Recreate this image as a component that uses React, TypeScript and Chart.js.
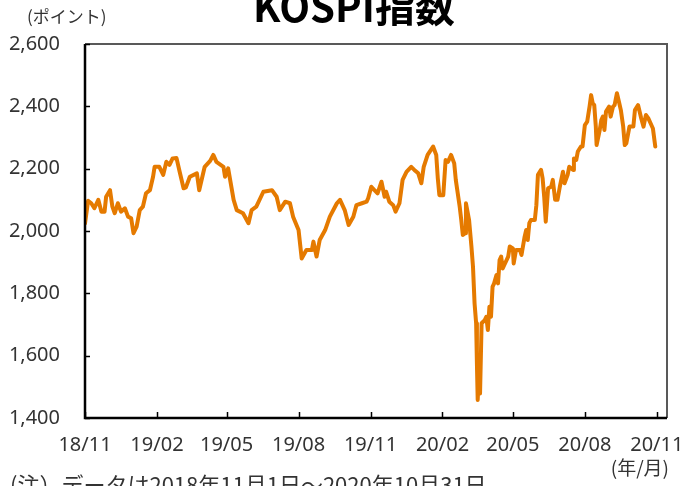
import React, { useEffect, useRef } from "react";
import { Chart, registerables } from "chart.js";
Chart.register(...registerables);

// days since 2018-11-01
const days = [
  0, 4, 8, 12, 17, 21, 25, 27, 32, 35,
  38, 42, 46, 51, 55, 59, 62, 66, 70, 74,
  78, 83, 87, 89, 95, 100, 104, 108, 112, 117,
  121, 126, 129, 134, 143, 146, 153, 160, 164, 168,
  177, 179, 183, 190, 194, 202, 209, 213, 219, 228,
  239, 245, 249, 256, 262, 266, 273, 277, 283, 290,
  292, 296, 300, 307, 313, 322, 326, 332, 337, 343,
  347, 354, 360, 362, 366, 370, 374, 379, 383, 385,
  389, 394, 397, 402, 406, 411, 417, 421, 426, 430,
  433, 438, 445, 449, 451, 453, 458, 461, 464, 468,
  472, 474, 479, 481, 483, 486, 487, 491, 494, 496,
  498, 500, 501, 502, 504, 505, 507, 511, 513, 515,
  517, 519, 521, 523, 526, 528, 530, 532, 534, 536,
  541, 543, 547, 548, 551, 556, 558, 562, 564, 566,
  568, 570, 575, 577, 579, 583, 585, 587, 589, 592,
  596, 598, 601, 604, 607, 611, 613, 617, 619, 624,
  625, 628, 630, 634, 636, 639, 642, 645, 647, 649,
  651, 653, 654, 658, 660, 662, 664, 666, 670, 672,
  675, 677, 680, 683, 685, 688, 690, 692, 696, 701,
  703, 707, 711, 714, 717, 720, 724, 726, 729,
];

const kospi = [
  2024, 2097, 2089, 2073, 2100, 2062, 2062, 2110, 2131, 2078,
  2057, 2089, 2062, 2073, 2046, 2041, 1993, 2014, 2067, 2078,
  2121, 2131, 2174, 2206, 2206, 2180, 2222, 2212, 2233, 2234,
  2190, 2137, 2140, 2174, 2185, 2131, 2206, 2225, 2244, 2222,
  2206, 2174, 2201, 2100, 2067, 2057, 2025, 2067, 2078, 2126,
  2131, 2110, 2067, 2094, 2089, 2046, 2003, 1912, 1939, 1939,
  1966, 1918, 1971, 2003, 2046, 2089, 2100, 2067, 2019, 2046,
  2083, 2089, 2094, 2105, 2142, 2131, 2121, 2158, 2110, 2126,
  2094, 2083, 2062, 2089, 2164, 2190, 2206, 2196, 2185, 2153,
  2206, 2244, 2271, 2244, 2169, 2115, 2115, 2228, 2222, 2244,
  2217, 2164, 2078, 2035, 1987, 1993, 2089, 2035, 1950, 1885,
  1768, 1704, 1575, 1458, 1565, 1479, 1704, 1714, 1725, 1682,
  1757, 1725, 1821, 1832, 1859, 1832, 1907, 1918, 1880, 1891,
  1918, 1950, 1944, 1896, 1939, 1939, 1923, 1982, 2003, 1971,
  2025, 2035, 2035, 2083, 2180, 2196, 2169, 2110, 2030, 2137,
  2142, 2164, 2100, 2100, 2142, 2190, 2153, 2180, 2206, 2196,
  2233, 2228, 2255, 2271, 2271, 2340, 2351, 2399, 2436, 2410,
  2404, 2335, 2276, 2324, 2356, 2367, 2324, 2383, 2399, 2367,
  2399, 2404, 2442, 2410, 2388, 2335, 2276, 2281, 2335, 2335,
  2388, 2404, 2362, 2335, 2372, 2362, 2340, 2329, 2271,
];

const xTickDays = [0, 92, 181, 273, 365, 457, 547, 639, 731];
const xTickLabels = ["18/11", "19/02", "19/05", "19/08", "19/11", "20/02", "20/05", "20/08", "20/11"];
const yTicks = [1400, 1600, 1800, 2000, 2200, 2400, 2600];

const titleText = "KOSPI指数";
const yUnitText = "(ポイント)";
const xUnitText = "(年/月)";
const noteText = "(注）データは2018年11月1日～2020年10月31日。";

const NUM_FONT = '"Noto Sans", "Liberation Sans", sans-serif';
const JP_FONT = '"Noto Sans CJK JP", "Noto Sans", sans-serif';

export default function App() {
  const ref = useRef<HTMLCanvasElement | null>(null);

  useEffect(() => {
    document.body.style.margin = "0";
    const canvas = ref.current;
    if (!canvas) return;

    const decor = {
      id: "decor",
      afterDraw(chart: any) {
        const ctx = chart.ctx;
        const { left, right, top, bottom } = chart.chartArea;
        const xs = chart.scales.x;
        const ys = chart.scales.y;
        ctx.save();
        // frame: top & right gray
        ctx.strokeStyle = "#595959";
        ctx.lineWidth = 2;
        ctx.beginPath();
        ctx.moveTo(left, top);
        ctx.lineTo(right, top);
        ctx.lineTo(right, bottom);
        ctx.stroke();
        // left & bottom black
        ctx.strokeStyle = "#000";
        ctx.lineWidth = 2.5;
        ctx.beginPath();
        ctx.moveTo(left, top);
        ctx.lineTo(left, bottom);
        ctx.lineTo(right, bottom);
        ctx.stroke();
        // inward tick marks
        ctx.lineWidth = 1.5;
        xTickDays.forEach((d) => {
          const px = Math.round(xs.getPixelForValue(d)) + 0.5;
          ctx.beginPath();
          ctx.moveTo(px, bottom);
          ctx.lineTo(px, bottom - 6);
          ctx.stroke();
        });
        yTicks.forEach((v) => {
          const py = Math.round(ys.getPixelForValue(v)) + 0.5;
          ctx.beginPath();
          ctx.moveTo(left, py);
          ctx.lineTo(left + 5, py);
          ctx.stroke();
        });
        // texts
        ctx.fillStyle = "#000";
        ctx.font = `bold 40px ${JP_FONT}`;
        ctx.textAlign = "center";
        ctx.textBaseline = "alphabetic";
        ctx.fillText(titleText, 354, 22);

        ctx.fillStyle = "#333";
        ctx.font = `17px ${JP_FONT}`;
        ctx.textAlign = "left";
        ctx.textBaseline = "middle";
        ctx.fillText(yUnitText, 27, 17);

        ctx.font = `19px ${JP_FONT}`;
        ctx.textAlign = "right";
        ctx.fillText(xUnitText, 669, 468);

        ctx.font = `22px ${JP_FONT}`;
        ctx.textAlign = "left";
        ctx.textBaseline = "alphabetic";
        ctx.fillText(noteText, 10, 493);
        ctx.restore();
      },
    };

    const chart = new Chart(canvas, {
      type: "line",
      data: {
        datasets: [
          {
            data: days.map((d, i) => ({ x: d, y: kospi[i] })),
            borderColor: "#E57A00",
            borderWidth: 4,
            pointRadius: 0,
            tension: 0,
            borderJoinStyle: "round",
            borderCapStyle: "round",
            fill: false,
          },
        ],
      },
      options: {
        responsive: false,
        animation: false,
        events: [],
        layout: { padding: { left: 0, right: 14, top: 44, bottom: 0 } },
        plugins: {
          legend: { display: false },
          tooltip: { enabled: false },
          title: { display: false },
        },
        scales: {
          x: {
            type: "linear",
            min: 0,
            max: 744,
            grid: { display: false, drawTicks: false },
            border: { display: false },
            afterBuildTicks: (scale: any) => {
              scale.ticks = xTickDays.map((v) => ({ value: v }));
            },
            afterFit: (scale: any) => {
              scale.height = 68;
              scale.paddingLeft = 0;
              scale.paddingRight = 0;
            },
            ticks: {
              autoSkip: false,
              maxRotation: 0,
              padding: 15,
              color: "#333",
              font: { family: NUM_FONT, size: 20 },
              callback: (_v: any, i: number) => xTickLabels[i],
            },
          },
          y: {
            min: 1400,
            max: 2600,
            grid: { display: false, drawTicks: false },
            border: { display: false },
            afterBuildTicks: (scale: any) => {
              scale.ticks = yTicks.map((v) => ({ value: v }));
            },
            afterFit: (scale: any) => {
              scale.width = 85;
              scale.paddingTop = 0;
              scale.paddingBottom = 0;
            },
            ticks: {
              padding: 25,
              color: "#333",
              font: { family: NUM_FONT, size: 20 },
              callback: (v: any) => Number(v).toLocaleString("en-US"),
            },
          },
        },
      },
      plugins: [decor],
    });

    return () => chart.destroy();
  }, []);

  return (
    <div style={{ position: "fixed", left: 0, top: 0, width: 681, height: 486, background: "#fff" }}>
      <canvas ref={ref} width={681} height={486} style={{ display: "block" }} />
    </div>
  );
}
